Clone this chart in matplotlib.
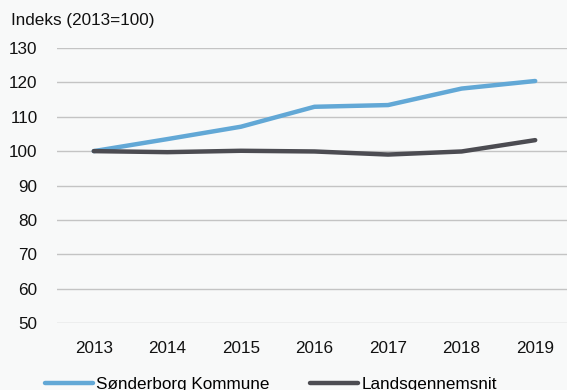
import matplotlib
matplotlib.use("Agg")
import matplotlib.pyplot as plt

# Data
years = ["2013", "2014", "2015", "2016", "2017", "2018", "2019"]
sonderborg = [100, 103.5, 107.1, 112.9, 113.4, 118.2, 120.4]
landsgennemsnit = [100, 99.7, 100.1, 99.9, 99.0, 99.9, 103.2]
y_ticks = [50, 60, 70, 80, 90, 100, 110, 120, 130]

plt.rcParams["font.family"] = ["Liberation Sans", "DejaVu Sans"]
bg = "#f8f9f9"
fs = 12.3

fig = plt.figure(figsize=(5.67, 3.90), dpi=100, facecolor=bg)
ax = fig.add_axes([57 / 567, 67 / 390, 515 / 567, 275 / 390], facecolor=bg)

x = range(len(years))
ax.plot(x, sonderborg, color="#62a8d6", lw=3.2, solid_capstyle="round",
        label="Sønderborg Kommune", zorder=3)
ax.plot(x, landsgennemsnit, color="#4c4c52", lw=3.2, solid_capstyle="round",
        label="Landsgennemsnit", zorder=3)

ax.set_xlim(-0.5, len(years) - 0.5)
ax.set_ylim(50, 130)
ax.set_yticks(y_ticks)
ax.set_xticks(list(x))
ax.set_xticklabels(years)
ax.yaxis.grid(True, color="#c4c4c4", lw=1.0)
ax.set_axisbelow(True)
for s in ax.spines.values():
    s.set_visible(False)
ax.tick_params(axis="both", length=0, labelsize=fs, colors="#111111")
ax.tick_params(axis="x", pad=13)
ax.tick_params(axis="y", pad=14)

fig.text(11 / 567, 1 - 20 / 390, "Indeks (2013=100)", fontsize=fs,
         va="center", ha="left", color="#111111")

leg = fig.legend(loc="center left", bbox_to_anchor=(45 / 567, 6 / 390), ncol=2,
                 frameon=False, fontsize=fs, handlelength=2.8,
                 handletextpad=0.2, columnspacing=2.35, borderaxespad=0,
                 borderpad=0)

fig.savefig("out.png", dpi=100, facecolor=bg)
